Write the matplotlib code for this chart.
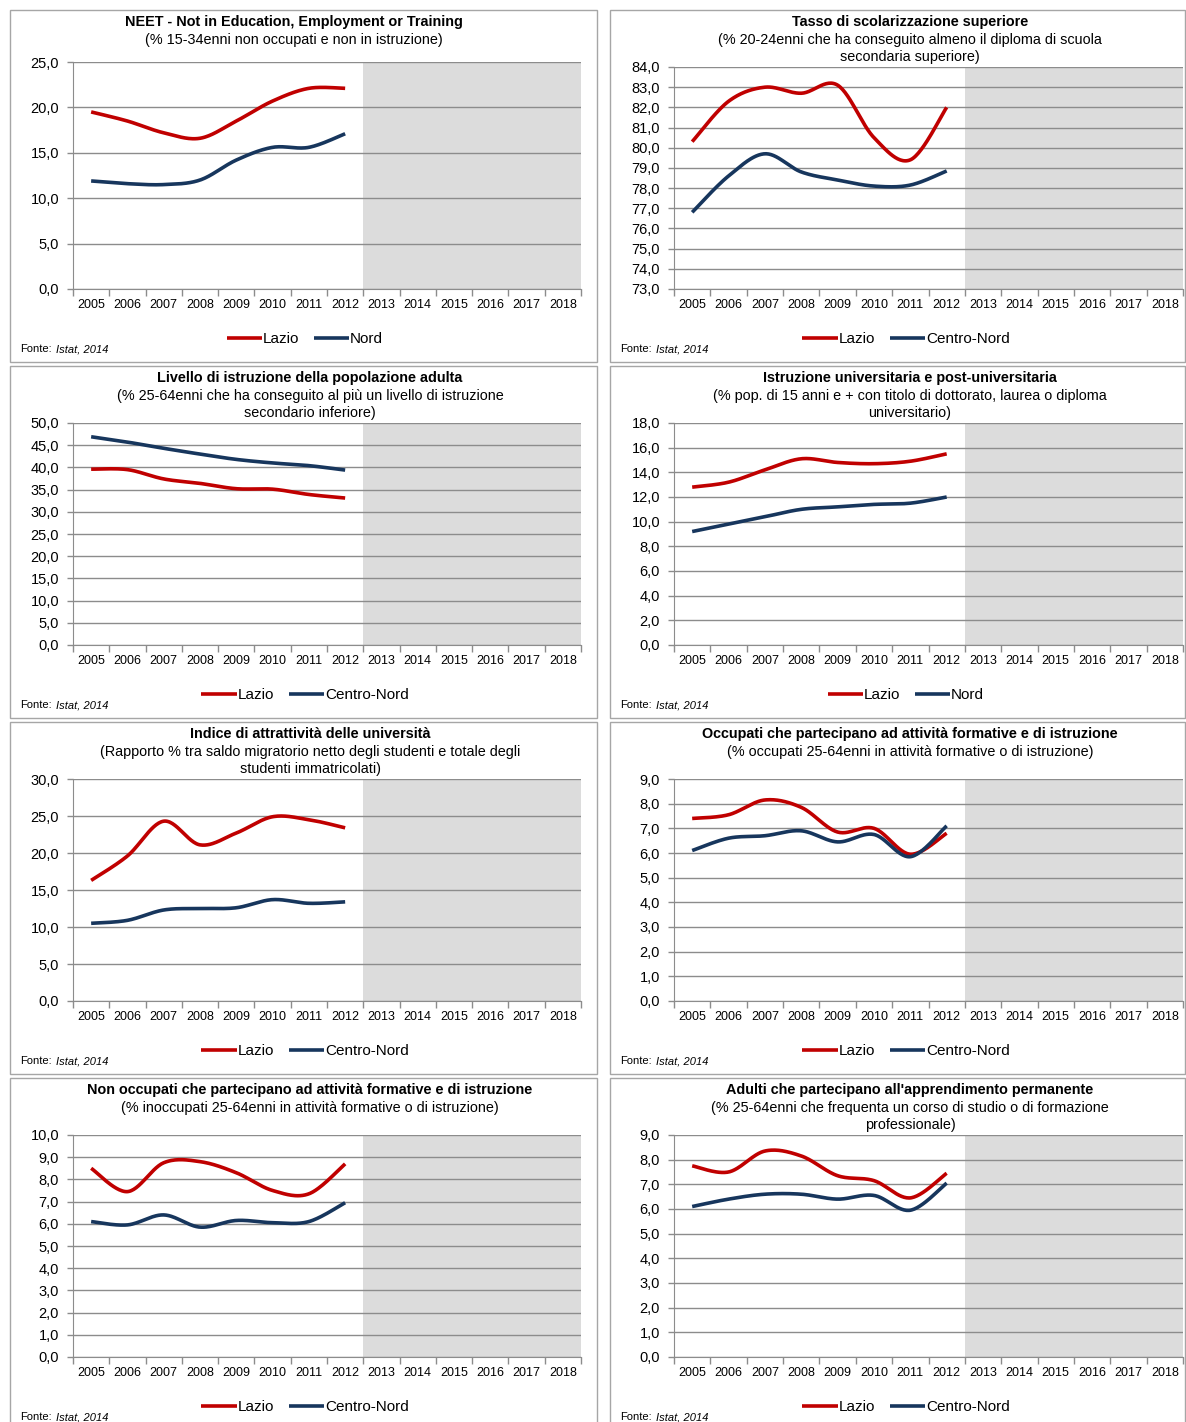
import numpy as np
import matplotlib.pyplot as plt
from matplotlib.patches import Rectangle
from matplotlib.ticker import FuncFormatter

plt.rcParams['font.family'] = ['Liberation Sans', 'DejaVu Sans']

# dati
years = [str(y) for y in range(2005, 2019)]
data_years = list(range(8))  # 2005-2012 (posizioni di categoria)

neet_lazio = [19.5, 18.5, 17.2, 16.6, 18.5, 20.7, 22.1, 22.1]
neet_nord = [11.9, 11.6, 11.5, 12.0, 14.2, 15.6, 15.6, 17.1]

scol_lazio = [80.3, 82.3, 83.0, 82.7, 83.1, 80.5, 79.4, 82.0]
scol_cn = [76.8, 78.6, 79.7, 78.8, 78.4, 78.1, 78.15, 78.85]

istr_lazio = [39.6, 39.5, 37.4, 36.4, 35.2, 35.1, 33.9, 33.1]
istr_cn = [46.9, 45.7, 44.3, 43.0, 41.8, 41.0, 40.4, 39.4]

univ_lazio = [12.8, 13.2, 14.2, 15.1, 14.8, 14.7, 14.9, 15.5]
univ_nord = [9.2, 9.8, 10.4, 11.0, 11.2, 11.4, 11.5, 12.0]

attr_lazio = [16.3, 19.6, 24.3, 21.1, 22.7, 24.9, 24.5, 23.4]
attr_cn = [10.5, 10.9, 12.3, 12.5, 12.6, 13.7, 13.2, 13.4]

occ_lazio = [7.4, 7.55, 8.15, 7.85, 6.85, 7.0, 5.95, 6.8]
occ_cn = [6.1, 6.6, 6.7, 6.9, 6.45, 6.75, 5.85, 7.1]

nonocc_lazio = [8.5, 7.45, 8.75, 8.8, 8.3, 7.5, 7.35, 8.7]
nonocc_cn = [6.1, 5.95, 6.4, 5.85, 6.15, 6.05, 6.1, 6.95]

adulti_lazio = [7.75, 7.5, 8.35, 8.15, 7.35, 7.15, 6.45, 7.45]
adulti_cn = [6.1, 6.4, 6.6, 6.6, 6.4, 6.55, 5.95, 7.05]

panels = [
    ('NEET - Not in Education, Employment or Training',
     ['(% 15-34enni non occupati e non in istruzione)'],
     neet_lazio, neet_nord, 'Nord', 0, 25, 5),
    ('Tasso di scolarizzazione superiore',
     ['(% 20-24enni che ha conseguito almeno il diploma di scuola', 'secondaria superiore)'],
     scol_lazio, scol_cn, 'Centro-Nord', 73, 84, 1),
    ('Livello di istruzione della popolazione adulta',
     ['(% 25-64enni che ha conseguito al più un livello di istruzione', 'secondario inferiore)'],
     istr_lazio, istr_cn, 'Centro-Nord', 0, 50, 5),
    ('Istruzione universitaria e post-universitaria',
     ['(% pop. di 15 anni e + con titolo di dottorato, laurea o diploma', 'universitario)'],
     univ_lazio, univ_nord, 'Nord', 0, 18, 2),
    ('Indice di attrattività delle università',
     ['(Rapporto % tra saldo migratorio netto degli studenti e totale degli', 'studenti immatricolati)'],
     attr_lazio, attr_cn, 'Centro-Nord', 0, 30, 5),
    ('Occupati che partecipano ad attività formative e di istruzione',
     ['(% occupati 25-64enni in attività formative o di istruzione)'],
     occ_lazio, occ_cn, 'Centro-Nord', 0, 9, 1),
    ('Non occupati che partecipano ad attività formative e di istruzione',
     ['(% inoccupati 25-64enni in attività formative o di istruzione)'],
     nonocc_lazio, nonocc_cn, 'Centro-Nord', 0, 10, 1),
    ("Adulti che partecipano all'apprendimento permanente",
     ['(% 25-64enni che frequenta un corso di studio o di formazione', 'professionale)'],
     adulti_lazio, adulti_cn, 'Centro-Nord', 0, 9, 1),
]

RED = '#C00000'
NAVY = '#17365D'
GRID = '#8C8C8C'

W, H = 1186, 1422
fig = plt.figure(figsize=(W / 100, H / 100), dpi=100)


def fy(py):
    return 1 - py / H


def smooth(xs, ys, steps=30):
    # linea smussata tipo Excel (bezier Catmull-Rom)
    p = np.column_stack([xs, ys]).astype(float)
    p = np.vstack([p[0], p, p[-1]])
    t = np.linspace(0, 1, steps)[:, None]
    out = []
    for i in range(1, len(p) - 2):
        p0, p3 = p[i], p[i + 1]
        c1 = p0 + (p[i + 1] - p[i - 1]) / 6
        c2 = p3 - (p[i + 2] - p[i]) / 6
        seg = (1 - t) ** 3 * p0 + 3 * (1 - t) ** 2 * t * c1 + 3 * (1 - t) * t ** 2 * c2 + t ** 3 * p3
        out.append(seg if i == 1 else seg[1:])
    out = np.vstack(out)
    return out[:, 0], out[:, 1]


fmt = FuncFormatter(lambda v, pos: f'{v:.1f}'.replace('.', ','))

box_l = [10, 610]
box_r = [597, 1185]
ax_l = [73, 674]
ax_r = [581, 1183]
leg_cx = [305, 906]
title_cx = [310, 910]

for k, (title, sub, lazio, other, other_lab, ymin, ymax, step) in enumerate(panels):
    row, col = divmod(k, 2)
    top = 10 + 356 * row

    fig.add_artist(Rectangle((box_l[col] / W, fy(top + 352)), (box_r[col] - box_l[col]) / W, 352 / H,
                             transform=fig.transFigure, fill=False, ec='#A6A6A6', lw=1))

    a_top = top + (52 if k == 0 else 57)
    a_bot = top + 279
    ax = fig.add_axes([ax_l[col] / W, fy(a_bot), (ax_r[col] - ax_l[col]) / W, (a_bot - a_top) / H])

    ax.axvspan(7.5, 13.5, color='#DCDCDC', lw=0, zorder=0)
    sx, sy = smooth(data_years, lazio)
    ax.plot(sx, sy, color=RED, lw=2.6, solid_capstyle='butt', label='Lazio')
    sx, sy = smooth(data_years, other)
    ax.plot(sx, sy, color=NAVY, lw=2.6, solid_capstyle='butt', label=other_lab)

    ax.set_xlim(-0.5, 13.5)
    ax.set_ylim(ymin, ymax)
    ax.set_yticks(np.arange(ymin, ymax + step / 2, step))
    ax.yaxis.set_major_formatter(fmt)
    ax.grid(axis='y', color=GRID, lw=1)

    ax.set_xticks(np.arange(-0.5, 14, 1))
    ax.set_xticklabels([])
    ax.set_xticks(range(14), minor=True)
    ax.set_xticklabels(years, minor=True, size=9)
    ax.tick_params(axis='x', which='major', length=5, color=GRID, width=1)
    ax.tick_params(axis='x', which='minor', length=0, pad=7)
    ax.tick_params(axis='y', length=4, color=GRID, width=1, pad=6, labelsize=10.5)

    for s in ['top', 'right']:
        ax.spines[s].set_visible(False)
    for s in ['left', 'bottom']:
        ax.spines[s].set_color(GRID)

    cx = 294 if k == 0 else title_cx[col]
    fig.text(cx / W, fy(top + 12), title, ha='center', va='center', weight='bold', size=10.4)
    for i, line in enumerate(sub):
        fig.text(cx / W, fy(top + 30 + 17.5 * i), line, ha='center', va='center', size=10.4)

    ax.legend(loc='center', bbox_to_anchor=(leg_cx[col] / W, fy(top + 329)), bbox_transform=fig.transFigure,
              ncol=2, frameon=False, handlelength=2.3, handletextpad=0.05, columnspacing=1.0, fontsize=11)

    fig.text((box_l[col] + 10) / W, fy(top + 339), 'Fonte:', va='center', size=8)
    fig.text((box_l[col] + 46) / W, fy(top + 339), 'Istat, 2014', va='center', size=8, style='italic')

fig.savefig('out.png', dpi=100)
